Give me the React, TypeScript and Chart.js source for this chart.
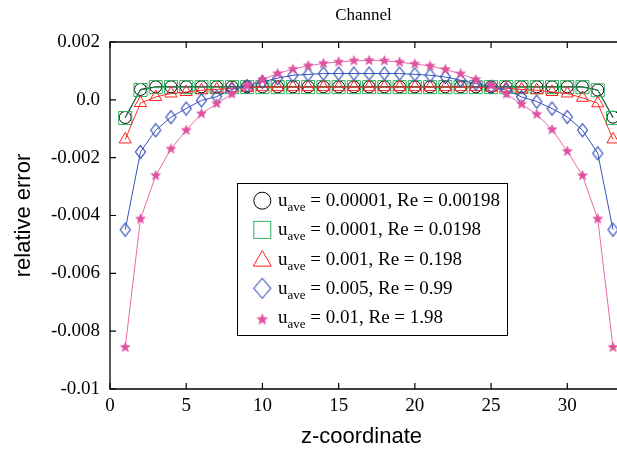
import React, { useEffect, useRef } from 'react';
import { Chart, registerables } from 'chart.js';

Chart.register(...registerables);

// ---------- data ----------
const zCoord = [1, 2, 3, 4, 5, 6, 7, 8, 9, 10, 11, 12, 13, 14, 15, 16, 17, 18, 19, 20, 21, 22, 23, 24, 25, 26, 27, 28, 29, 30, 31, 32, 33];

const errU00001 = [-0.00061, 0.00036, 0.00045, 0.00045, 0.00045, 0.00045, 0.00045, 0.00045, 0.00045, 0.00045, 0.00045, 0.00045, 0.00045, 0.00045, 0.00045, 0.00045, 0.00045, 0.00045, 0.00045, 0.00045, 0.00045, 0.00045, 0.00045, 0.00045, 0.00045, 0.00045, 0.00045, 0.00045, 0.00045, 0.00045, 0.00045, 0.00034, -0.0006];
const errU0001 = [-0.00063, 0.00034, 0.00044, 0.00044, 0.00044, 0.00044, 0.00044, 0.00044, 0.00044, 0.00044, 0.00044, 0.00044, 0.00044, 0.00044, 0.00044, 0.00044, 0.00044, 0.00044, 0.00044, 0.00044, 0.00044, 0.00044, 0.00044, 0.00044, 0.00044, 0.00044, 0.00044, 0.00044, 0.00044, 0.00044, 0.00044, 0.00033, -0.00063];
const errU001 = [-0.00137, -0.00011, 0.0001, 0.00022, 0.00027, 0.00033, 0.00036, 0.0004, 0.00042, 0.00044, 0.00044, 0.00044, 0.00044, 0.00044, 0.00044, 0.00044, 0.00044, 0.00044, 0.00044, 0.00044, 0.00044, 0.00044, 0.00044, 0.00044, 0.00042, 0.0004, 0.00036, 0.00033, 0.00027, 0.00022, 0.00007, -0.00012, -0.00137];
const errU005 = [-0.00449, -0.0018, -0.00105, -0.0006, -0.0003, -0.00002, 0.00011, 0.00036, 0.00048, 0.00062, 0.00075, 0.00085, 0.00088, 0.00091, 0.00091, 0.00091, 0.00091, 0.00091, 0.00091, 0.00088, 0.00085, 0.00079, 0.00068, 0.00056, 0.00045, 0.00034, 0.0001, -0.00006, -0.0003, -0.00059, -0.00105, -0.00185, -0.00449];
const errU01 = [-0.00856, -0.00412, -0.00262, -0.0017, -0.00105, -0.00048, -0.00013, 0.0002, 0.00048, 0.0007, 0.00091, 0.00106, 0.00118, 0.00126, 0.00131, 0.00135, 0.00136, 0.00135, 0.0013, 0.00124, 0.00117, 0.00105, 0.0009, 0.0007, 0.0005, 0.0002, -0.00015, -0.0005, -0.00103, -0.00178, -0.00262, -0.00412, -0.00856];

const uAveValues = ['0.00001', '0.0001', '0.001', '0.005', '0.01'];
const reValues = ['0.00198', '0.0198', '0.198', '0.99', '1.98'];

const xTickValues = [0, 5, 10, 15, 20, 25, 30];
const yTickValues = [-0.01, -0.008, -0.006, -0.004, -0.002, 0, 0.002];
const yTickLabels = ['-0.01', '-0.008', '-0.006', '-0.004', '-0.002', '0.0', '0.002'];

const chartTitle = 'Channel';
const xTitle = 'z-coordinate';
const yTitle = 'relative error';

// ---------- styling ----------
const SERIF = '"Liberation Serif", "Times New Roman", serif';
const SANS = '"Liberation Sans", Arial, sans-serif';
const markerColors = ['#000000', '#2db35d', '#ff2020', '#2f4db8', '#e0509e'];
const lineColors = ['#000000', '#1f8f48', '#ff3030', '#3552bd', '#e56aae'];

function makeDiamond(w: number, h: number, color: string, lw: number) {
  const c = document.createElement('canvas');
  c.width = Math.ceil(w + 3);
  c.height = Math.ceil(h + 3);
  const ctx = c.getContext('2d')!;
  const cx = c.width / 2, cy = c.height / 2;
  ctx.strokeStyle = color;
  ctx.lineWidth = lw;
  ctx.beginPath();
  ctx.moveTo(cx, cy - h / 2);
  ctx.lineTo(cx + w / 2, cy);
  ctx.lineTo(cx, cy + h / 2);
  ctx.lineTo(cx - w / 2, cy);
  ctx.closePath();
  ctx.stroke();
  return c;
}

function makeStar(r: number, color: string) {
  const size = Math.ceil(2 * r + 3);
  const c = document.createElement('canvas');
  c.width = size;
  c.height = size;
  const ctx = c.getContext('2d')!;
  const cx = size / 2, cy = size / 2;
  ctx.fillStyle = color;
  ctx.strokeStyle = color;
  ctx.lineWidth = 0.8;
  ctx.beginPath();
  for (let k = 0; k < 10; k++) {
    const rr = k % 2 === 0 ? r : r * 0.42;
    const a = -Math.PI / 2 + (k * Math.PI) / 5;
    const px = cx + rr * Math.cos(a), py = cy + rr * Math.sin(a);
    if (k === 0) ctx.moveTo(px, py); else ctx.lineTo(px, py);
  }
  ctx.closePath();
  ctx.fill();
  ctx.stroke();
  return c;
}

export default function App() {
  const ref = useRef<HTMLCanvasElement | null>(null);

  useEffect(() => {
    document.body.style.margin = '0';
    const canvas = ref.current;
    if (!canvas) return;

    const diamond = makeDiamond(10, 13, markerColors[3], 1.2);
    const star = makeStar(5, markerColors[4]);
    const legendDiamond = makeDiamond(17, 20, markerColors[3], 1.1);
    const legendStar = makeStar(5.5, markerColors[4]);

    const series = [errU00001, errU0001, errU001, errU005, errU01];
    const pointStyles: any[] = ['circle', 'rect', 'triangle', diamond, star];
    const pointRadii = [6, 9.2, 7, 7, 5];

    const datasets = series.map((vals, i) => ({
      label: `u_ave = ${uAveValues[i]}, Re = ${reValues[i]}`,
      data: zCoord.map((z, j) => ({ x: z, y: vals[j] })),
      borderColor: lineColors[i],
      borderWidth: 1,
      pointStyle: pointStyles[i],
      pointRadius: pointRadii[i],
      pointBorderColor: markerColors[i],
      pointBackgroundColor: 'rgba(0,0,0,0)',
      pointBorderWidth: 1,
      tension: 0,
      clip: false as any,
      order: 4 - i,
    }));

    const framePlugin = {
      id: 'frame',
      beforeDatasetsDraw(chart: any) {
        const { ctx, chartArea, scales } = chart;
        const { left, top, bottom } = chartArea;
        const w = chart.width;
        ctx.save();
        ctx.strokeStyle = '#000';
        ctx.lineWidth = 1.3;
        ctx.beginPath();
        ctx.moveTo(w, top);
        ctx.lineTo(left, top);
        ctx.lineTo(left, bottom);
        ctx.lineTo(w, bottom);
        ctx.stroke();
        ctx.lineWidth = 1.2;
        ctx.beginPath();
        xTickValues.forEach((v) => {
          const px = scales.x.getPixelForValue(v);
          ctx.moveTo(px, bottom);
          ctx.lineTo(px, bottom - 6);
          ctx.moveTo(px, top);
          ctx.lineTo(px, top + 6);
        });
        yTickValues.forEach((v) => {
          const py = scales.y.getPixelForValue(v);
          ctx.moveTo(left, py);
          ctx.lineTo(left + 6, py);
        });
        ctx.stroke();
        ctx.restore();
      },
      afterDraw(chart: any) {
        const { ctx, chartArea } = chart;
        ctx.save();
        // title
        ctx.fillStyle = '#000';
        ctx.font = `17px ${SERIF}`;
        ctx.textAlign = 'center';
        ctx.textBaseline = 'middle';
        ctx.fillText(chartTitle, (chartArea.left + chartArea.right) / 2 + 2, 16);

        // legend box
        const bx = 237.5, by = 183.5, bw = 270, bh = 152;
        ctx.fillStyle = '#fff';
        ctx.fillRect(bx, by, bw, bh);
        ctx.strokeStyle = '#000';
        ctx.lineWidth = 1;
        ctx.strokeRect(bx, by, bw, bh);

        ctx.textAlign = 'left';
        ctx.textBaseline = 'alphabetic';
        for (let i = 0; i < uAveValues.length; i++) {
          const cy = 200.7 + i * 29.2;
          const mx = 262.3;
          ctx.lineWidth = 1;
          ctx.strokeStyle = markerColors[i];
          ctx.fillStyle = markerColors[i];
          if (i === 0) {
            ctx.beginPath();
            ctx.arc(mx, cy, 8.5, 0, Math.PI * 2);
            ctx.stroke();
          } else if (i === 1) {
            ctx.strokeRect(mx - 8.5, cy - 8.5, 17, 17);
          } else if (i === 2) {
            ctx.beginPath();
            ctx.moveTo(mx, cy - 8.5);
            ctx.lineTo(mx + 9, cy + 7);
            ctx.lineTo(mx - 9, cy + 7);
            ctx.closePath();
            ctx.stroke();
          } else if (i === 3) {
            ctx.drawImage(legendDiamond, mx - legendDiamond.width / 2, cy - legendDiamond.height / 2);
          } else {
            ctx.drawImage(legendStar, mx - legendStar.width / 2, cy + 2 - legendStar.height / 2);
          }
          const base = cy + 5.5;
          let tx = 278;
          ctx.fillStyle = '#000';
          ctx.font = `19px ${SERIF}`;
          ctx.fillText('u', tx, base);
          tx += ctx.measureText('u').width;
          ctx.font = `13px ${SERIF}`;
          ctx.fillText('ave', tx, base + 5);
          tx += ctx.measureText('ave').width;
          ctx.font = `19px ${SERIF}`;
          ctx.fillText(` = ${uAveValues[i]}, Re = ${reValues[i]}`, tx, base);
        }
        ctx.restore();
      },
    };

    const chart = new Chart(canvas, {
      type: 'line',
      data: { datasets: datasets as any },
      options: {
        responsive: false,
        animation: false,
        devicePixelRatio: 1,
        layout: { autoPadding: false, padding: { left: 0, right: 4, top: 42, bottom: 0 } },
        plugins: {
          legend: { display: false },
          title: { display: false },
          tooltip: { enabled: false },
        },
        scales: {
          x: {
            type: 'linear',
            min: 0,
            max: 33,
            afterFit: (s: any) => {
              s.height = 60;
              s.paddingLeft = 0;
              s.paddingRight = 0;
            },
            afterBuildTicks: (s: any) => { s.ticks = xTickValues.map((v) => ({ value: v })); },
            grid: { display: false, drawTicks: false },
            border: { display: false },
            ticks: {
              padding: 6,
              color: '#000',
              font: { family: SERIF, size: 19 },
              maxRotation: 0,
              callback: (v: any) => String(v),
            },
            title: {
              display: true,
              text: xTitle,
              color: '#000',
              font: { family: SANS, size: 22, lineHeight: 1.1 },
              padding: { top: 0, bottom: 0 },
            },
          },
          y: {
            type: 'linear',
            min: -0.01,
            max: 0.002,
            afterFit: (s: any) => {
              s.width = 110;
              s.paddingTop = 0;
              s.paddingBottom = 0;
            },
            afterBuildTicks: (s: any) => { s.ticks = yTickValues.map((v) => ({ value: v })); },
            grid: { display: false, drawTicks: false },
            border: { display: false },
            ticks: {
              padding: 10,
              color: '#000',
              font: { family: SERIF, size: 19 },
              callback: (_v: any, idx: number) => yTickLabels[idx],
            },
            title: {
              display: true,
              text: yTitle,
              color: '#000',
              font: { family: SANS, size: 22, lineHeight: 1.1 },
              padding: { top: 12, bottom: 0 },
            },
          },
        },
      },
      plugins: [framePlugin],
    });

    return () => chart.destroy();
  }, []);

  return (
    <div style={{ width: 617, height: 449, background: '#fff' }}>
      <canvas ref={ref} width={617} height={449} style={{ display: 'block' }} />
    </div>
  );
}
